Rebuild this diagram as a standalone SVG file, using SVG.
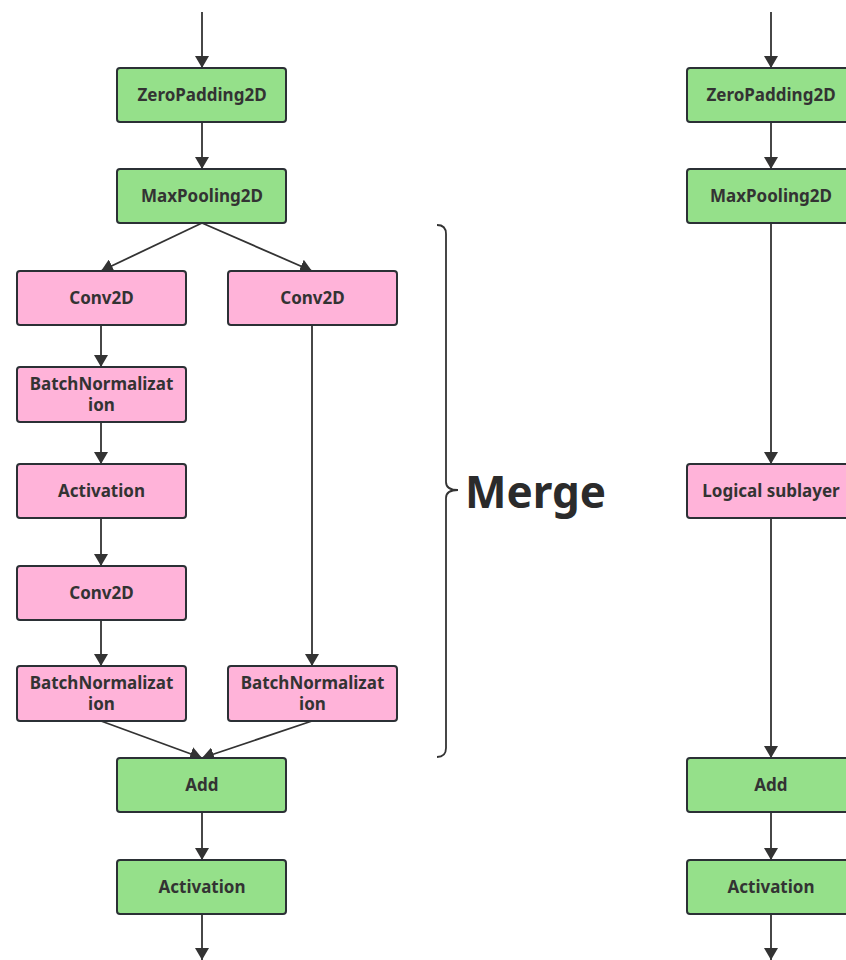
<svg xmlns="http://www.w3.org/2000/svg" width="846" height="960" viewBox="0 0 846 960">
  <style>
    .box { stroke: #2b3035; stroke-width: 2; }
    .green { fill: #95e08a; }
    .pink { fill: #ffb3d9; }
    .lbl { font-family: "Noto Sans", "Open Sans", sans-serif; font-weight: bold; font-size: 17px; fill: #333; text-anchor: middle; }
    .edge { stroke: #333; stroke-width: 1.8; fill: none; }
    .big { font-family: "Noto Sans", "Open Sans", sans-serif; font-weight: bold; font-size: 44px; fill: #2b2b2b; }
  </style>
  <defs>
    <marker id="arr" viewBox="0 0 12 14" refX="12" refY="7" markerWidth="12" markerHeight="14" markerUnits="userSpaceOnUse" orient="auto">
      <path d="M0,0 L12,7 L0,14 z" fill="#333"/>
    </marker>
  </defs>
  <rect width="846" height="960" fill="#ffffff"/>

  <!-- connectors -->
  <g id="connectors">
    <line class="edge" x1="202" y1="12" x2="202" y2="68" marker-end="url(#arr)"/>
    <line class="edge" x1="202" y1="122" x2="202" y2="169" marker-end="url(#arr)"/>
    <line class="edge" x1="202" y1="223" x2="101" y2="271" marker-end="url(#arr)"/>
    <line class="edge" x1="202" y1="223" x2="312" y2="271" marker-end="url(#arr)"/>
    <line class="edge" x1="101" y1="325" x2="101" y2="367" marker-end="url(#arr)"/>
    <line class="edge" x1="101" y1="422" x2="101" y2="464" marker-end="url(#arr)"/>
    <line class="edge" x1="101" y1="518" x2="101" y2="566" marker-end="url(#arr)"/>
    <line class="edge" x1="101" y1="620" x2="101" y2="666" marker-end="url(#arr)"/>
    <line class="edge" x1="312" y1="325" x2="312" y2="666" marker-end="url(#arr)"/>
    <line class="edge" x1="101" y1="721" x2="202" y2="758" marker-end="url(#arr)"/>
    <line class="edge" x1="312" y1="721" x2="202" y2="758" marker-end="url(#arr)"/>
    <line class="edge" x1="202" y1="812" x2="202" y2="860" marker-end="url(#arr)"/>
    <line class="edge" x1="202" y1="914" x2="202" y2="960" marker-end="url(#arr)"/>

    <line class="edge" x1="771" y1="12" x2="771" y2="68" marker-end="url(#arr)"/>
    <line class="edge" x1="771" y1="122" x2="771" y2="169" marker-end="url(#arr)"/>
    <line class="edge" x1="771" y1="223" x2="771" y2="464" marker-end="url(#arr)"/>
    <line class="edge" x1="771" y1="518" x2="771" y2="758" marker-end="url(#arr)"/>
    <line class="edge" x1="771" y1="812" x2="771" y2="860" marker-end="url(#arr)"/>
    <line class="edge" x1="771" y1="914" x2="771" y2="960" marker-end="url(#arr)"/>
  </g>

  <!-- left network -->
  <g id="zeropad-a"><rect class="box green" x="117" y="68" width="169" height="54" rx="3"/><text class="lbl" x="202" y="101">ZeroPadding2D</text></g>
  <g id="maxpool-a"><rect class="box green" x="117" y="169" width="169" height="54" rx="3"/><text class="lbl" x="202" y="202">MaxPooling2D</text></g>
  <g id="conv-a1"><rect class="box pink" x="17" y="271" width="169" height="54" rx="3"/><text class="lbl" x="101.5" y="304">Conv2D</text></g>
  <g id="conv-b1"><rect class="box pink" x="228" y="271" width="169" height="54" rx="3"/><text class="lbl" x="312.5" y="304">Conv2D</text></g>
  <g id="bn-a1"><rect class="box pink" x="17" y="367" width="169" height="55" rx="3"/><text class="lbl" x="101.5" y="390">BatchNormalizat</text><text class="lbl" x="101.5" y="411">ion</text></g>
  <g id="act-a1"><rect class="box pink" x="17" y="464" width="169" height="54" rx="3"/><text class="lbl" x="101.5" y="497">Activation</text></g>
  <g id="conv-a2"><rect class="box pink" x="17" y="566" width="169" height="54" rx="3"/><text class="lbl" x="101.5" y="599">Conv2D</text></g>
  <g id="bn-a2"><rect class="box pink" x="17" y="666" width="169" height="55" rx="3"/><text class="lbl" x="101.5" y="689">BatchNormalizat</text><text class="lbl" x="101.5" y="710">ion</text></g>
  <g id="bn-b1"><rect class="box pink" x="228" y="666" width="169" height="55" rx="3"/><text class="lbl" x="312.5" y="689">BatchNormalizat</text><text class="lbl" x="312.5" y="710">ion</text></g>
  <g id="add-a"><rect class="box green" x="117" y="758" width="169" height="54" rx="3"/><text class="lbl" x="202" y="791">Add</text></g>
  <g id="act-a2"><rect class="box green" x="117" y="860" width="169" height="54" rx="3"/><text class="lbl" x="202" y="893">Activation</text></g>

  <!-- merge brace -->
  <g id="merge">
    <path class="edge" d="M437,225 Q446,225 446,234 L446,482 Q446,490 458,490 Q446,490 446,498 L446,748 Q446,757 437,757"/>
    <text class="big" x="465" y="508">Merge</text>
  </g>

  <!-- right network -->
  <g id="zeropad-r"><rect class="box green" x="687" y="68" width="169" height="54" rx="3"/><text class="lbl" x="771" y="101">ZeroPadding2D</text></g>
  <g id="maxpool-r"><rect class="box green" x="687" y="169" width="169" height="54" rx="3"/><text class="lbl" x="771" y="202">MaxPooling2D</text></g>
  <g id="logical-r"><rect class="box pink" x="687" y="464" width="169" height="54" rx="3"/><text class="lbl" x="771" y="497">Logical sublayer</text></g>
  <g id="add-r"><rect class="box green" x="687" y="758" width="169" height="54" rx="3"/><text class="lbl" x="771" y="791">Add</text></g>
  <g id="act-r"><rect class="box green" x="687" y="860" width="169" height="54" rx="3"/><text class="lbl" x="771" y="893">Activation</text></g>
</svg>
